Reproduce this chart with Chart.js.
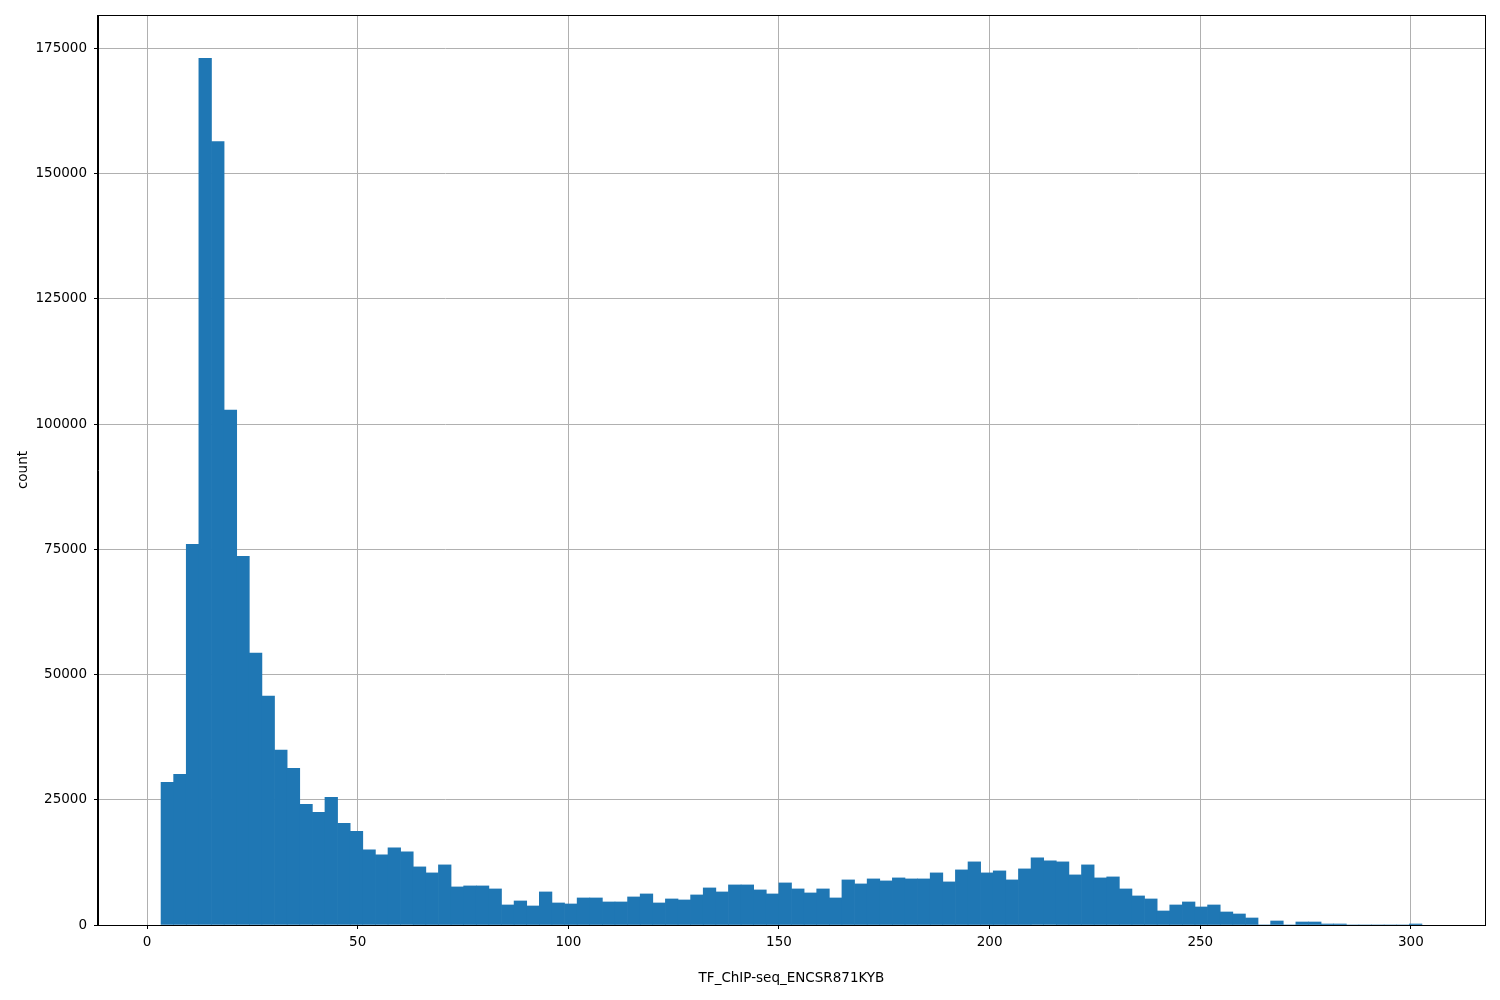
<!DOCTYPE html>
<html>
<head>
<meta charset="utf-8">
<script src="https://cdn.jsdelivr.net/npm/chart.js@4"></script>
<style>
  html, body { margin: 0; padding: 0; background: #ffffff; }
  #wrap { width: 1500px; height: 1000px; }
</style>
</head>
<body>
<div id="wrap"><canvas id="c" width="1500" height="1000"></canvas></div>
<script>
// Histogram bins: 100 equal bins from binStart with width binWidth
const binStart = 3.32;
const binWidth = 2.993;
const counts = [
  28500, 30100, 76000, 173000, 156400, 102800, 73600, 54300, 45700, 34900,
  31300, 24100, 22500, 25500, 20300, 18700, 15000, 14000, 15400, 14600,
  11600, 10400, 12000, 7600, 7800, 7800, 7200, 4000, 4800, 3800,
  6600, 4400, 4200, 5400, 5400, 4600, 4600, 5600, 6200, 4400,
  5200, 5000, 6000, 7400, 6600, 8000, 8000, 7000, 6200, 8400,
  7200, 6400, 7200, 5400, 9000, 8200, 9200, 8800, 9400, 9200,
  9200, 10400, 8600, 11000, 12600, 10400, 10800, 9000, 11200, 13400,
  12800, 12600, 10000, 12000, 9400, 9600, 7200, 5800, 5200, 2800,
  4000, 4600, 3600, 4000, 2600, 2200, 1400, 0, 800, 0,
  600, 600, 200, 200, 0, 0, 0, 0, 0, 200
];
const xTicks = [0, 50, 100, 150, 200, 250, 300];
const yTicks = [0, 25000, 50000, 75000, 100000, 125000, 150000, 175000];
const xLabel = 'TF_ChIP-seq_ENCSR871KYB';
const yLabel = 'count';

const binEnd = binStart + binWidth * counts.length;
const xPad = (binEnd - binStart) * 0.05;
const xMin = binStart - xPad;
const xMax = binEnd + xPad;
const yMax = Math.max(...counts) * 1.05;

const points = counts.map((c, i) => ({ x: binStart + binWidth * (i + 0.5), y: c }));

const FONT = { family: 'DejaVu Sans', size: 13.5 };

const framePlugin = {
  id: 'frame',
  afterDraw(chart) {
    const a = chart.chartArea;
    const ctx = chart.ctx;
    ctx.save();
    ctx.strokeStyle = '#000000';
    ctx.lineWidth = 1;
    ctx.strokeRect(Math.round(a.left) - 0.5, Math.round(a.top) + 0.5,
                   Math.round(a.right - a.left) + 1, Math.round(a.bottom - a.top));
    ctx.restore();
  }
};

new Chart(document.getElementById('c'), {
  type: 'bar',
  data: {
    datasets: [{
      data: points,
      backgroundColor: '#1f77b4',
      borderWidth: 0,
      barPercentage: 1.0,
      categoryPercentage: 1.0,
      grouped: false
    }]
  },
  options: {
    responsive: false,
    animation: false,
    events: [],
    layout: { padding: { left: 0, right: 15, top: 15, bottom: 0 } },
    plugins: { legend: { display: false }, tooltip: { enabled: false } },
    scales: {
      x: {
        type: 'linear',
        min: xMin,
        max: xMax,
        offset: false,
        z: 1,
        afterBuildTicks: (s) => { s.ticks = xTicks.map(v => ({ value: v })); },
        afterFit: (s) => { s.height = 75; },
        grid: { offset: false, color: '#b0b0b0', lineWidth: 1, tickColor: '#000000', tickLength: 4, tickWidth: 1 },
        border: { display: true, color: '#000000', width: 1 },
        ticks: { color: '#000000', font: FONT, padding: 5, maxRotation: 0, autoSkip: false,
                 callback: (v) => String(v) },
        title: { display: true, text: xLabel, color: '#000000', font: FONT, padding: { top: 0, bottom: 13 } }
      },
      y: {
        type: 'linear',
        min: 0,
        max: yMax,
        z: 1,
        afterBuildTicks: (s) => { s.ticks = yTicks.map(v => ({ value: v })); },
        afterFit: (s) => { s.width = 98; },
        grid: { offset: false, color: '#b0b0b0', lineWidth: 1, tickColor: '#000000', tickLength: 4, tickWidth: 1 },
        border: { display: true, color: '#000000', width: 1 },
        ticks: { color: '#000000', font: FONT, padding: 7, autoSkip: false,
                 callback: (v) => String(v) },
        title: { display: true, text: yLabel, color: '#000000', font: FONT, padding: { top: 15, bottom: 0 } }
      }
    }
  },
  plugins: [framePlugin]
});
</script>
</body>
</html>
